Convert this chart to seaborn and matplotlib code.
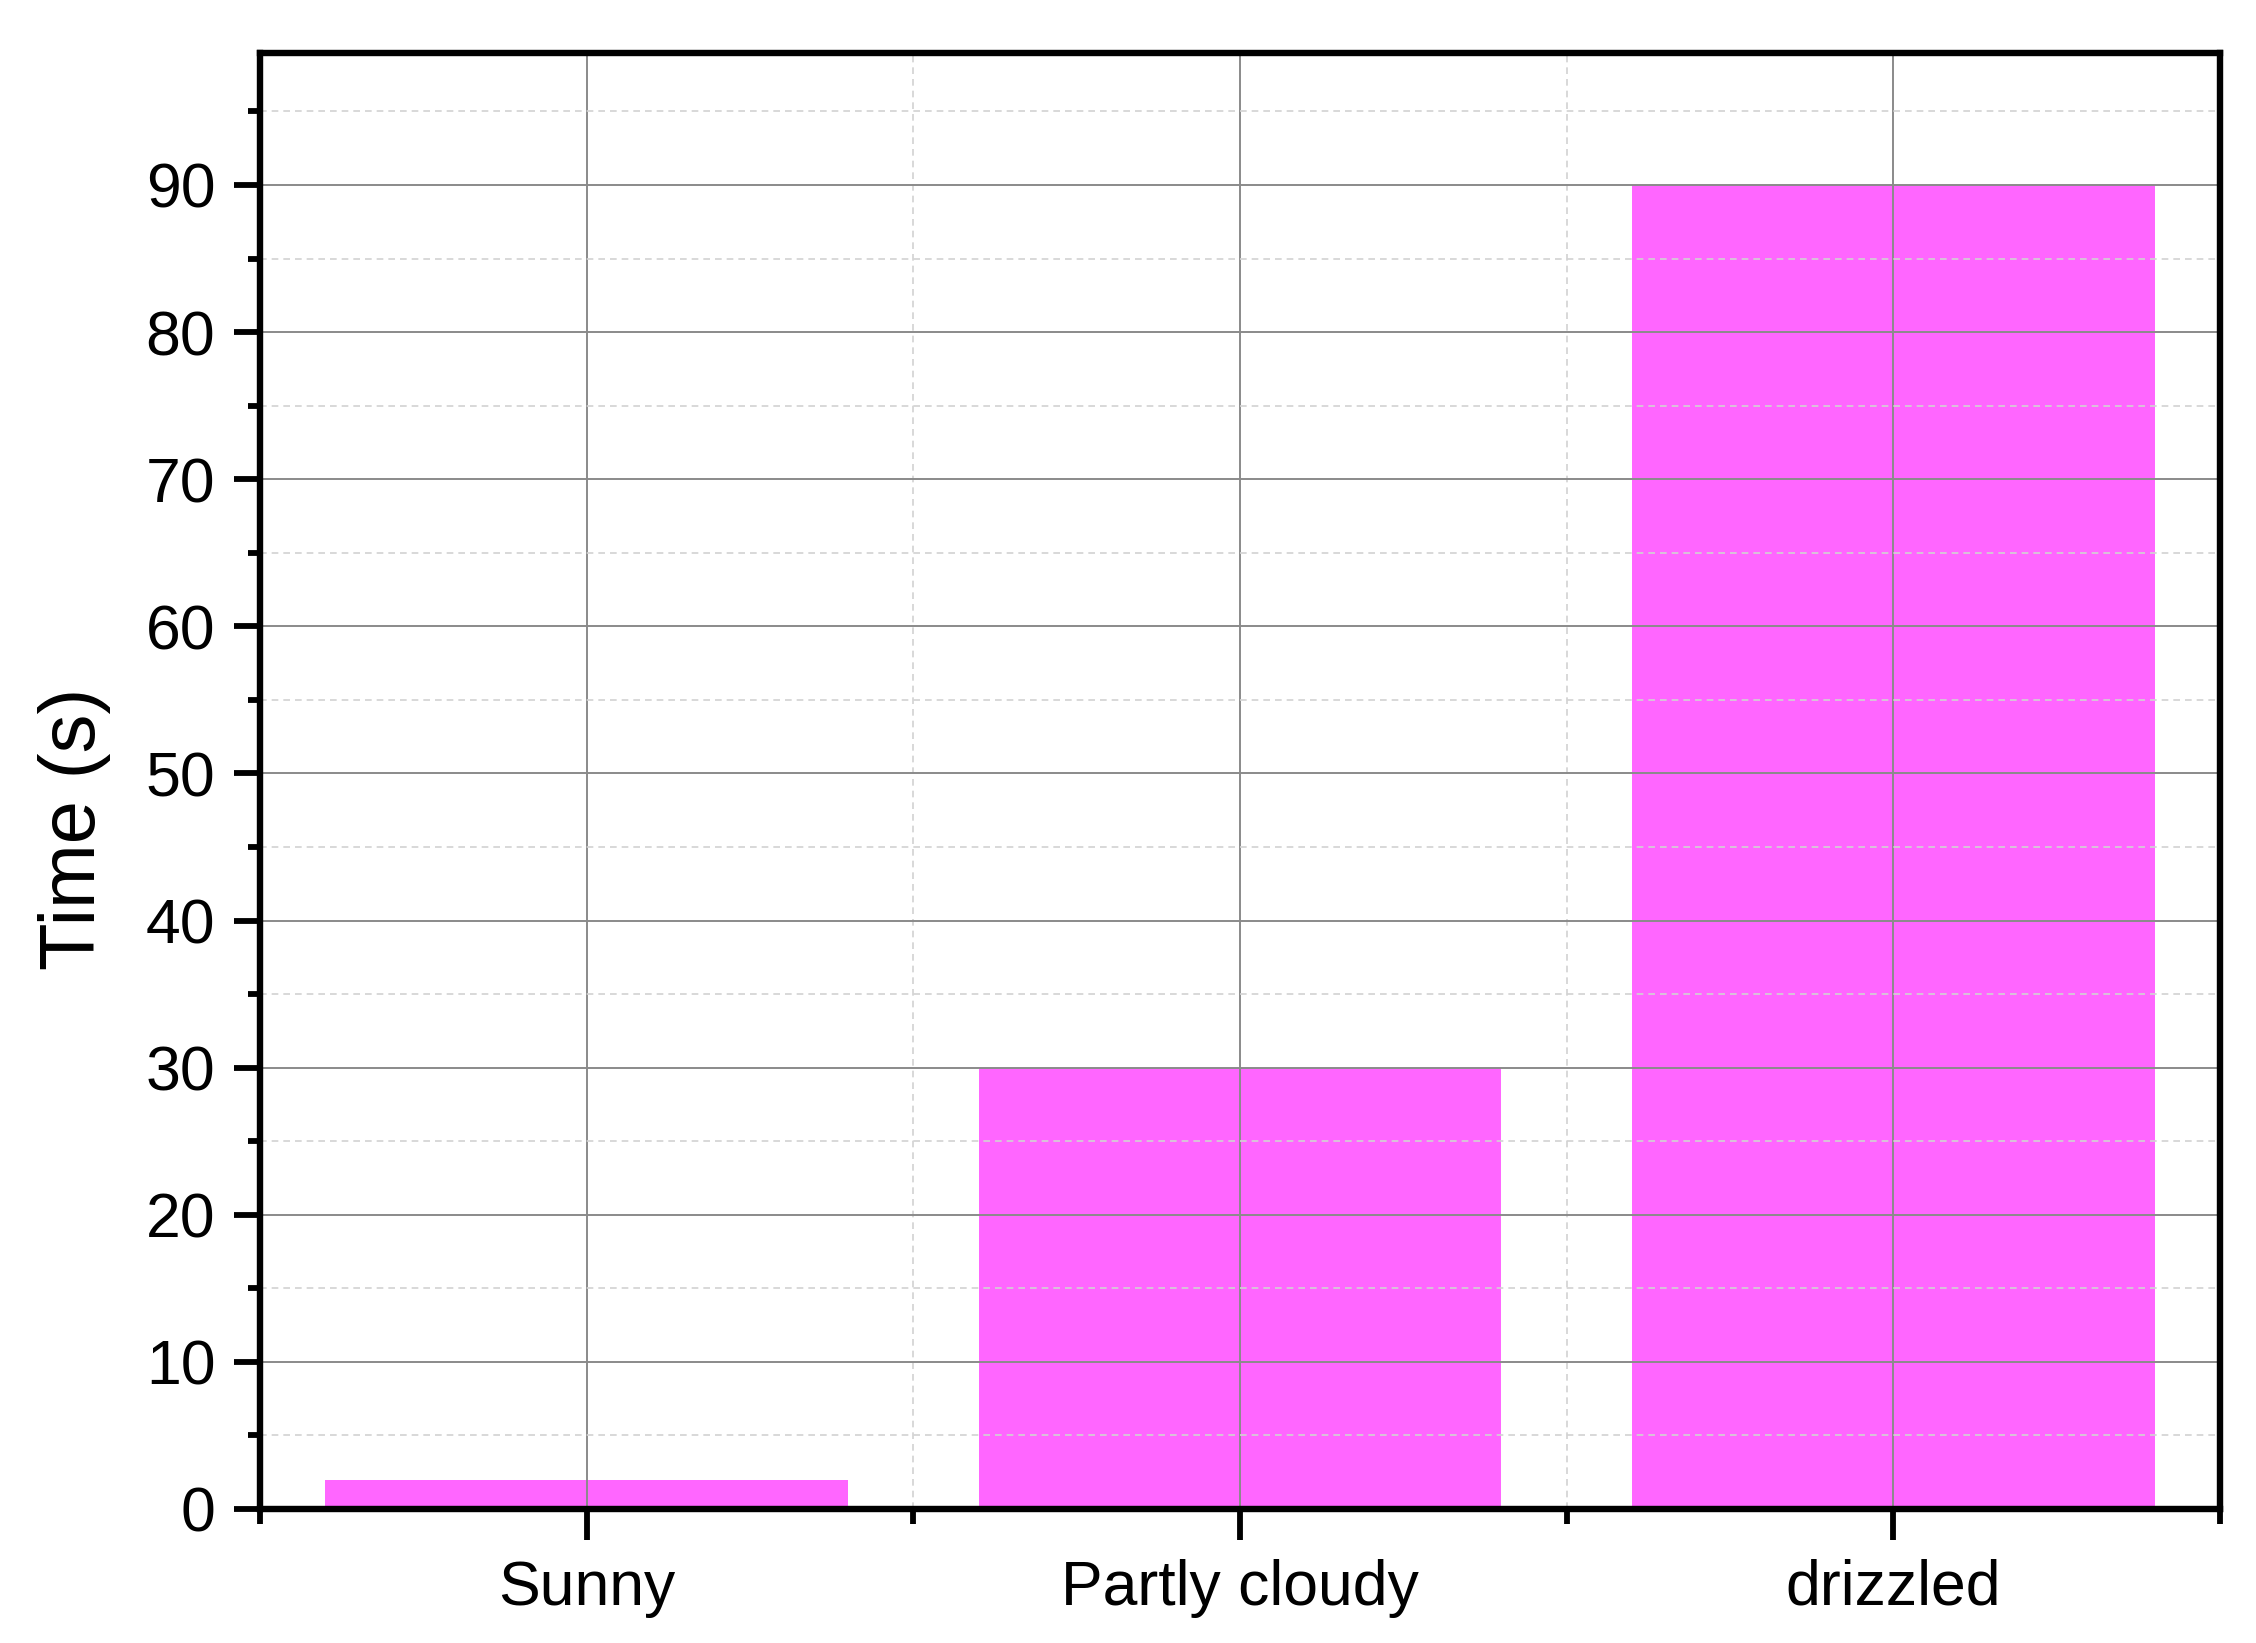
import matplotlib
matplotlib.use("Agg")
import matplotlib.pyplot as plt
from matplotlib.ticker import MultipleLocator, FixedLocator
import seaborn as sns
import pandas as pd

categories = ["Sunny", "Partly cloudy", "drizzled"]
times = [2, 30, 90]
y_ticks = [0, 10, 20, 30, 40, 50, 60, 70, 80, 90]

sns.set_theme(style="white")
plt.rcParams["font.family"] = ["Liberation Sans", "DejaVu Sans"]
plt.rcParams["text.color"] = "black"
plt.rcParams["axes.labelcolor"] = "black"
plt.rcParams["xtick.color"] = "black"
plt.rcParams["ytick.color"] = "black"

df = pd.DataFrame({"Weather": categories, "Time": times})

fig = plt.figure(figsize=(11.28, 8.215), dpi=200)
ax = fig.add_axes([0.1152, 0.0816, 0.8688, 0.8864])

sns.barplot(data=df, x="Weather", y="Time", color="#FF66FF", saturation=1,
            width=0.8, ax=ax, edgecolor="none")

ax.set_xlim(-0.5, 2.5)
ax.set_ylim(0, 99)
ax.set_yticks(y_ticks)
ax.yaxis.set_minor_locator(MultipleLocator(5))
ax.xaxis.set_minor_locator(FixedLocator([-0.5, 0.5, 1.5, 2.5]))

ax.set_axisbelow(False)
ax.grid(which="major", color="#8a8a8a", lw=0.7, ls="-")
ax.grid(which="minor", color="#d2d2d2", lw=0.6, ls=(0, (4, 3)))

for s in ax.spines.values():
    s.set_visible(True)
    s.set_linewidth(2.3)
    s.set_color("black")
    s.set_zorder(5)

ax.tick_params(axis="both", which="major", direction="out", width=2.1,
               color="black", labelcolor="black", labelsize=22.5,
               bottom=True, left=True)
ax.tick_params(axis="y", which="major", length=9.5, pad=6.5)
ax.tick_params(axis="x", which="major", length=11, pad=7)
ax.tick_params(axis="y", which="minor", length=4.5, width=2.1, left=True, direction="out")
ax.tick_params(axis="x", which="minor", length=5.5, width=2.1, bottom=True, direction="out")

ax.set_xlabel("")
ax.set_ylabel("Time (s)", fontsize=28, color="black")
ax.yaxis.set_label_coords(-0.076, 0.467)

fig.savefig("out.png", dpi=200, facecolor="white")
